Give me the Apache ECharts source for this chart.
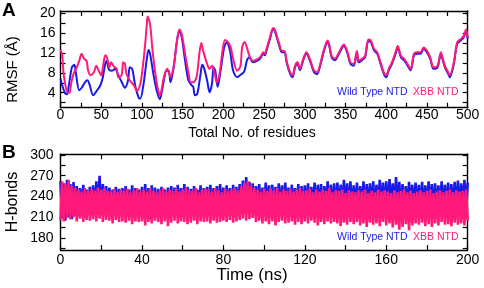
<!DOCTYPE html>
<html>
<head>
<meta charset="utf-8">
<script src="https://cdn.jsdelivr.net/npm/echarts@6/dist/echarts.min.js"></script>
<style>
html,body{margin:0;padding:0;background:#fff;}
#c{width:484px;height:288px;}
</style>
</head>
<body>
<div id="c"></div>
<script>
// ---- Panel A: RMSF per residue ----
var wtRes = [0,3,6,8,10,14,17,19,23,26,30,33,36,40,45,49,52,55,57,59,63,67,71,75,79,83,85,88,92,96,98,102,106,108,110,114,118,122,124,127,130,133,135,139,143,146,149,153,157,161,163,165,168,172,174,176,180,183,186,188,190,193,196,201,204,208,212,217,221,225,227,229,232,236,240,245,249,251,253,257,261,263,268,272,275,278,282,285,288,291,294,298,302,307,311,315,319,323,328,330,333,337,341,348,352,356,360,364,366,370,374,378,381,385,389,393,397,400,403,407,412,414,418,422,426,430,434,438,442,446,450,454,458,463,467,469,472,476,478,483,487,491,495,498,500];
var wtRMSF = [6.8,5.0,3.8,3.7,5.2,9.1,9.6,7.8,4.5,5.0,6.1,6.5,5.5,3.5,4.5,5.5,7.1,9.8,10.4,8.8,8.4,8.8,7.5,6.2,5.0,6.5,9.1,8.8,5.2,3.0,2.8,5.8,10.8,12.6,11.8,7.8,4.5,2.7,3.9,6.5,8.4,8.4,6.1,9.1,14.4,16.5,15.0,10.4,6.5,5.5,5.2,3.5,3.8,7.8,9.6,9.1,6.5,4.1,5.8,9.1,8.4,5.2,7.8,13.1,14.1,12.5,8.4,7.1,7.6,8.1,9.1,10.5,11.1,10.1,10.3,10.8,11.8,11.5,12.5,14.7,16.7,16.4,13.8,12.1,12.1,9.8,7.8,7.1,9.1,9.8,8.5,10.5,11.8,10.1,8.2,7.7,9.5,12.1,14.2,13.4,11.1,10.5,11.5,13.4,12.1,9.8,9.4,12.1,10.1,10.5,11.1,14.4,14.2,12.5,11.8,9.8,7.8,7.1,8.5,9.8,12.1,13.1,11.1,10.5,9.5,8.5,11.5,11.8,11.8,12.8,12.1,10.8,8.8,9.1,11.8,10.8,9.1,7.8,7.1,9.8,13.8,14.4,15.1,16.4,14.8];
var xbbRes = [0,2,4,8,11,13,16,20,23,26,29,32,34,37,41,44,47,50,52,55,57,60,62,65,69,71,75,77,79,81,85,90,94,98,101,104,106,107,110,113,116,119,122,124,127,131,133,135,139,143,146,149,153,157,160,163,167,171,173,175,180,183,186,189,192,195,199,202,206,209,212,217,221,223,226,229,232,236,240,245,249,251,253,257,261,263,268,272,275,278,282,285,288,291,294,298,302,307,311,315,319,323,328,330,333,337,341,348,352,356,360,364,366,370,374,378,381,385,389,393,397,400,403,407,412,414,418,422,426,430,434,438,442,446,450,454,458,463,467,469,472,476,478,483,487,491,495,498,500];
var xbbRMSF = [12.6,11.6,7.6,4.2,4.0,5.8,7.8,9.1,10.4,11.8,10.8,10.4,8.4,7.5,8.1,9.4,8.4,7.5,9.1,11.5,11.1,9.1,10.1,9.4,8.8,7.1,7.5,10.1,9.8,7.8,6.5,5.5,4.4,5.8,9.1,13.8,17.7,19.3,17.7,12.5,8.4,5.2,3.5,4.5,7.1,8.8,8.1,7.1,9.4,14.4,16.7,15.7,11.8,8.1,6.1,6.1,7.1,12.5,14.0,12.5,9.8,8.8,9.4,8.1,6.1,7.5,12.5,14.6,14.1,13.1,10.8,8.4,9.4,13.1,14.2,13.0,11.4,10.4,10.6,11.1,12.1,11.8,12.8,15.0,17.0,16.7,14.1,12.4,12.4,10.1,8.1,7.5,9.4,10.1,8.8,10.8,12.1,10.4,8.5,8.1,9.8,12.4,14.5,13.7,11.4,10.8,11.8,13.7,12.4,10.1,9.8,12.4,10.4,10.8,11.4,14.7,14.5,12.8,12.1,10.1,8.1,7.5,8.8,10.1,12.4,13.4,11.4,10.8,9.8,8.8,11.8,12.1,12.1,13.1,12.4,11.1,9.1,9.4,12.1,11.1,9.4,8.1,7.5,10.1,14.1,14.7,15.4,16.7,15.0];
var rmsfTicks = [2,4,6,8,10,12,14,16,18,20];
var rmsfLabels = [4,8,12,16,20];

// ---- Panel B: H-bonds over time (0.8 ns sampling) ----
var timeStep = 0.8;
var wtHB = [
262,208,259,205,264,210,258,207,261,212,
255,211,252,214,257,210,250,215,254,212,
256,214,262,216,270,213,258,217,255,214,
253,216,250,213,254,218,251,215,252,212,
255,214,250,216,256,211,252,215,250,213,
254,209,258,212,252,207,256,214,253,210,
251,215,254,213,250,217,253,214,255,216,
253,212,257,215,252,210,258,214,254,213,
251,216,255,214,250,217,256,213,252,215,
254,216,257,213,252,217,255,214,258,216,
253,214,256,215,252,213,257,216,254,214,
258,216,263,218,268,217,261,219,259,216,
255,217,258,215,253,219,260,216,256,218,
257,216,254,219,259,215,256,218,260,217,
253,215,257,218,252,216,258,214,255,217,
256,218,259,215,254,219,260,216,257,218,
258,215,255,219,262,216,257,218,259,215,
260,217,257,219,264,216,259,218,262,217,
256,216,260,219,255,217,262,215,258,218,
259,217,262,215,257,219,264,216,260,218,
262,216,265,219,259,217,268,218,261,216,
258,218,255,216,261,219,257,217,260,215,
257,217,261,219,256,216,262,218,258,217,
259,216,256,218,262,217,257,219,260,216,
258,217,261,216,263,218,259,217,264,216,
260];
var xbbHB = [
206,262,204,258,209,264,207,255,210,252,
204,250,208,247,203,252,206,248,205,251,
207,249,204,253,208,250,203,252,206,248,
205,247,201,251,206,246,203,250,204,248,
202,251,205,246,200,249,204,252,203,247,
204,250,198,247,203,252,201,248,205,246,
203,249,200,252,204,247,197,250,202,248,
205,251,201,247,204,250,203,253,200,249,
202,248,205,252,200,246,204,250,203,251,
204,250,201,247,205,252,202,249,203,246,
205,251,203,248,206,250,202,252,204,249,
206,255,208,260,205,262,207,256,209,252,
203,250,205,247,201,251,204,248,200,252,
204,249,198,252,203,247,205,250,201,248,
202,251,204,247,199,250,203,252,200,248,
204,249,201,251,205,246,202,250,198,247,
203,250,200,248,204,252,201,246,203,249,
201,248,197,250,202,245,199,249,203,247,
200,246,203,249,198,247,201,250,196,245,
202,248,199,246,201,250,197,247,203,249,
198,247,201,245,195,249,199,246,192,248,
196,250,200,246,191,248,198,245,201,247,
199,249,202,246,197,248,200,250,196,245,
201,247,198,249,203,246,199,248,200,250,
197,246,202,249,199,247,201,248,198,250,
205];
var hbTicks = [165,180,195,210,225,240,255,270,285,300];
var hbLabels = [180,210,240,270,300];

var seriesNames = ['Wild Type NTD', 'XBB NTD'];
var BLUE = '#1a1ae6';
var PINK = '#ff1a7a';
var FONT = "'Liberation Sans', Arial, sans-serif";

function pairs(xs, ys) { return ys.map(function (y, i) { return [xs[i], y]; }); }
function timed(ys) { return ys.map(function (y, i) { return [i * timeStep, y]; }); }

var lineStyleAxis = { show: true, onZero: false, lineStyle: { color: '#000', width: 1.4 } };
function xAx(grid, pos, max, interval, labelEvery, showLabel, margin) {
  return {
    type: 'value', gridIndex: grid, position: pos, min: 0, max: max, interval: interval,
    axisLine: lineStyleAxis,
    axisTick: { show: true, inside: true, length: 5, lineStyle: { color: '#000', width: 1.2 } },
    axisLabel: {
      show: showLabel, color: '#000', fontSize: 14, fontFamily: FONT, margin: margin,
      formatter: function (v) { return (Math.round(v) % labelEvery === 0) ? String(Math.round(v)) : ''; }
    },
    splitLine: { show: false }
  };
}
function yAx(grid, pos, min, max, ticks, labels, showLabel, margin) {
  return {
    type: 'value', gridIndex: grid, position: pos, min: min, max: max,
    axisLine: lineStyleAxis,
    axisTick: { show: true, inside: true, length: 5, customValues: ticks, lineStyle: { color: '#000', width: 1.2 } },
    axisLabel: { show: showLabel, customValues: labels, color: '#000', fontSize: 14, fontFamily: FONT, margin: margin },
    splitLine: { show: false }
  };
}

var chart = echarts.init(document.getElementById('c'), null, { renderer: 'canvas' });
chart.setOption({
  animation: false,
  backgroundColor: '#fff',
  grid: [
    { left: 60.5, right: 16.3, top: 11, height: 96.7 },
    { left: 60.5, right: 16.3, top: 154.3, height: 95.7 }
  ],
  xAxis: [
    xAx(0, 'bottom', 500, 25, 50, true, 0),
    xAx(0, 'top', 500, 25, 50, false, 0),
    xAx(1, 'bottom', 200, 20, 40, true, 3),
    xAx(1, 'top', 200, 20, 40, false, 3)
  ],
  yAxis: [
    yAx(0, 'left', 1, 20.4, rmsfTicks, rmsfLabels, true, 5),
    yAx(0, 'right', 1, 20.4, rmsfTicks, rmsfLabels, false, 5),
    yAx(1, 'left', 162.5, 301, hbTicks, hbLabels, true, 7),
    yAx(1, 'right', 162.5, 301, hbTicks, hbLabels, false, 7)
  ],
  series: [
    { type: 'line', name: seriesNames[0], xAxisIndex: 0, yAxisIndex: 0, data: pairs(wtRes, wtRMSF),
      smooth: 0.3, showSymbol: false, lineStyle: { color: BLUE, width: 2 }, z: 2 },
    { type: 'line', name: seriesNames[1], xAxisIndex: 0, yAxisIndex: 0, data: pairs(xbbRes, xbbRMSF),
      smooth: 0.3, showSymbol: false, lineStyle: { color: PINK, width: 2 }, z: 3 },
    { type: 'line', name: seriesNames[0], xAxisIndex: 2, yAxisIndex: 2, data: timed(wtHB),
      showSymbol: false, lineStyle: { color: BLUE, width: 2.6, join: 'miter' }, z: 2 },
    { type: 'line', name: seriesNames[1], xAxisIndex: 2, yAxisIndex: 2, data: timed(xbbHB),
      showSymbol: false, lineStyle: { color: PINK, width: 2.6, join: 'miter' }, z: 3 }
  ],
  graphic: [
    { type: 'text', left: 2, top: 1, style: { text: 'A', font: "bold 19px " + FONT, fill: '#000' } },
    { type: 'text', left: 2, top: 143, style: { text: 'B', font: "bold 19px " + FONT, fill: '#000' } },
    { type: 'text', x: 252, y: 133, style: { text: 'Total No. of residues', font: "14px " + FONT, fill: '#000', align: 'center', verticalAlign: 'middle' } },
    { type: 'text', x: 252, y: 275, style: { text: 'Time (ns)', font: "17px " + FONT, fill: '#000', align: 'center', verticalAlign: 'middle' } },
    { type: 'text', x: 12.5, y: 69.5, rotation: Math.PI / 2, style: { text: 'RMSF (Å)', font: "15px " + FONT, fill: '#000', align: 'center', verticalAlign: 'middle' } },
    { type: 'text', x: 12.5, y: 202, rotation: Math.PI / 2, style: { text: 'H-bonds', font: "16px " + FONT, fill: '#000', align: 'center', verticalAlign: 'middle' } },
    { type: 'text', x: 337, y: 92, style: { text: seriesNames[0], font: "10.5px " + FONT, fill: BLUE, verticalAlign: 'middle' } },
    { type: 'text', x: 413, y: 92, style: { text: seriesNames[1], font: "10.5px " + FONT, fill: PINK, verticalAlign: 'middle' } },
    { type: 'text', x: 337, y: 237.5, style: { text: seriesNames[0], font: "10.5px " + FONT, fill: BLUE, verticalAlign: 'middle' } },
    { type: 'text', x: 413, y: 237.5, style: { text: seriesNames[1], font: "10.5px " + FONT, fill: PINK, verticalAlign: 'middle' } }
  ]
});
</script>
</body>
</html>
